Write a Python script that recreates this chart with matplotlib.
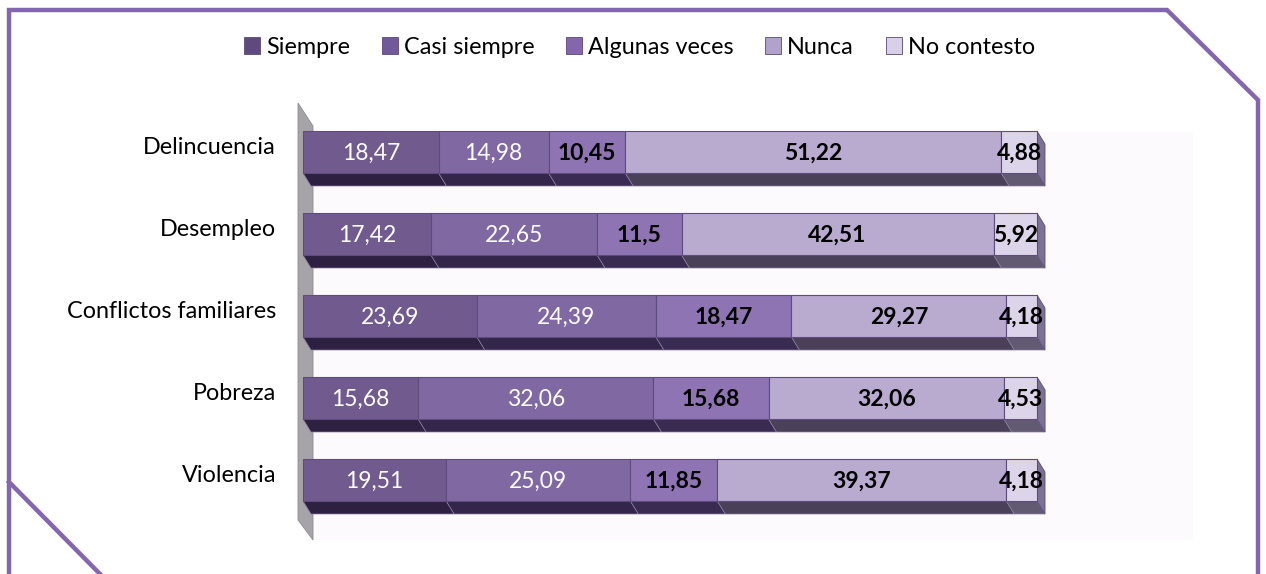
import matplotlib
matplotlib.use("Agg")
import matplotlib.pyplot as plt
from matplotlib.patches import Polygon, Rectangle, Patch
from matplotlib.lines import Line2D

plt.rcParams['font.family'] = ['Lato', 'DejaVu Sans']

categories = ["Delincuencia", "Desempleo", "Conflictos familiares", "Pobreza", "Violencia"]
series_names = ["Siempre", "Casi siempre", "Algunas veces", "Nunca", "No contesto"]
siempre = [18.47, 17.42, 23.69, 15.68, 19.51]
casi_siempre = [14.98, 22.65, 24.39, 32.06, 25.09]
algunas_veces = [10.45, 11.5, 18.47, 15.68, 11.85]
nunca = [51.22, 42.51, 29.27, 32.06, 39.37]
no_contesto = [4.88, 5.92, 4.18, 4.53, 4.18]
labels = [
    ["18,47", "17,42", "23,69", "15,68", "19,51"],
    ["14,98", "22,65", "24,39", "32,06", "25,09"],
    ["10,45", "11,5", "18,47", "15,68", "11,85"],
    ["51,22", "42,51", "29,27", "32,06", "39,37"],
    ["4,88", "5,92", "4,18", "4,53", "4,18"],
]
series = [siempre, casi_siempre, algunas_veces, nunca, no_contesto]

face_colors = ["#705a8e", "#8068a2", "#8e74b2", "#b9aad0", "#dcd4e8"]
legend_colors = ["#5e4a7e", "#72599a", "#8466ae", "#b0a2ca", "#d8d0e6"]
bottom_colors = ["#2e2040", "#34264a", "#3a2b52", "#4a4058", "#625a72"]
side_color = "#7c7094"
text_colors = ["white", "white", "black", "black", "black"]
text_weights = ["normal", "normal", "bold", "bold", "bold"]

W, H = 1266, 574
fig = plt.figure(figsize=(W / 100, H / 100), dpi=100)
ax = fig.add_axes([0, 0, 1, 1])

# horizontal scale: value units, 0 at pixel 303 and 100 at pixel 1037
px_per_unit = 7.34
x0_px = 303
ax.set_xlim(-x0_px / px_per_unit, (W - x0_px) / px_per_unit)
ax.set_ylim(H, 0)
ax.axis("off")

def ux(px):
    return px / px_per_unit

def px_x(px):
    return (px - x0_px) / px_per_unit

# outer frame with cut corners
frame = [(px_x(9), 600), (px_x(9), 482), (px_x(9), 10), (px_x(1167), 10),
         (px_x(1258), 100), (px_x(1258), 600)]
ax.add_line(Line2D([p[0] for p in frame], [p[1] for p in frame], color="#8366ad",
                   lw=3.2, solid_joinstyle="miter", clip_on=False))
ax.add_line(Line2D([px_x(9), px_x(100)], [482, 574], color="#8366ad", lw=3.2))

# back plane and side wall
ax.add_patch(Rectangle((px_x(313), 132), ux(1193 - 313), 540 - 132,
                       facecolor="#fcfafd", edgecolor="none", zorder=0))
ax.add_patch(Polygon([(px_x(298), 103), (px_x(313), 126), (px_x(313), 540), (px_x(298), 520)],
                     closed=True, facecolor="#a6a4a8", edgecolor="#8e8c90", lw=0.6, zorder=1))

bar_h = 42
depth_dx = ux(8)
depth_dy = 13
row_centers = [152, 234, 316, 398, 480]

for i, cat in enumerate(categories):
    yc = row_centers[i]
    top = yc - bar_h / 2
    bot = yc + bar_h / 2
    left = 0.0
    for s, vals in enumerate(series):
        v = vals[i]
        right = left + v
        # bottom face of the 3D bar
        ax.add_patch(Polygon([(left, bot), (right, bot), (right + depth_dx, bot + depth_dy),
                              (left + depth_dx, bot + depth_dy)], closed=True,
                             facecolor=bottom_colors[s], edgecolor="#8a7ea0", lw=0.5, zorder=2))
        ax.barh(yc, v, left=left, height=bar_h, color=face_colors[s],
                edgecolor="#5e4c7c", linewidth=0.8, zorder=3)
        ax.text(left + v / 2, yc + 1, labels[s][i], ha="center", va="center",
                color=text_colors[s], fontweight=text_weights[s], fontsize=16.5, zorder=5)
        left = right
    # right end face
    ax.add_patch(Polygon([(left, top), (left + depth_dx, top + depth_dy),
                          (left + depth_dx, bot + depth_dy), (left, bot)], closed=True,
                         facecolor=side_color, edgecolor="#5e4c7c", lw=0.6, zorder=2))
    ax.text(px_x(276), yc - 4, cat, ha="right", va="center", fontsize=16.8, color="black")

handles = [Patch(facecolor=c, edgecolor="#5a4878", lw=0.6) for c in legend_colors]
fig.legend(handles, series_names, loc="center", bbox_to_anchor=(0.505, 0.918), ncol=5,
           frameon=False, fontsize=16.8, handlelength=0.7, handleheight=0.7,
           handletextpad=0.25, columnspacing=1.35)

fig.savefig("out.png", dpi=100)
